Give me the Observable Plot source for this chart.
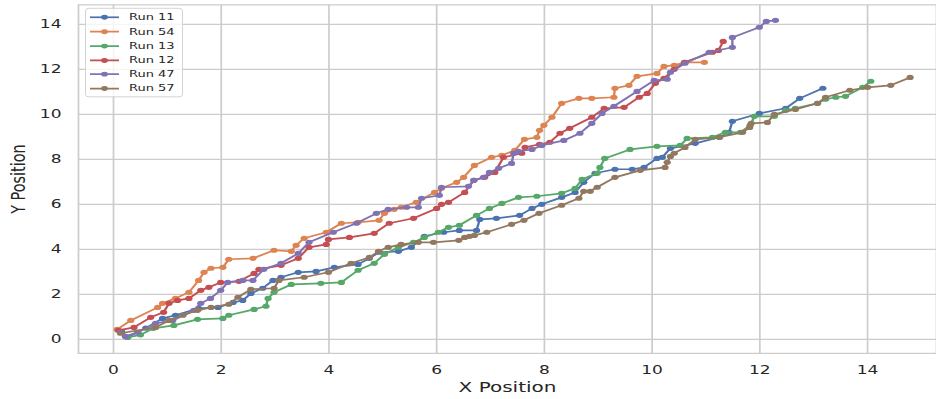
<!DOCTYPE html>
<html>
<head>
<meta charset="utf-8">
<script src="https://cdn.jsdelivr.net/npm/d3@7"></script>
<script src="https://cdn.jsdelivr.net/npm/@observablehq/plot@0.6"></script>
<style>
  html, body { margin: 0; padding: 0; background: #fff; overflow: hidden; }
  #stage { position: relative; width: 936px; height: 399px; overflow: hidden; background: #fff; }
  /* the figure is drawn at full height, then compressed vertically */
  #canvas { position: absolute; left: 0; top: 0; width: 946px; height: 554px; transform-origin: 0 0; transform: scaleY(0.72); }
  #canvas svg { max-width: none !important; width: 946px; height: 554px; display: block; }
  #legend {
    position: absolute; left: 85px; top: 11px; width: 98px; height: 124px;
    background: rgba(255,255,255,0.8); border: 1.3px solid #cccccc; border-radius: 4px;
    box-sizing: border-box; font-family: "DejaVu Sans", sans-serif; font-size: 13px; color: #262626;
  }
  .lg-row { position: absolute; left: 0; height: 20px; width: 100%; }
  .lg-row svg { position: absolute; left: 3px; top: 0; }
  .lg-row span { position: absolute; left: 43px; top: 1px; line-height: 18px; white-space: nowrap; }
</style>
</head>
<body>
<div id="stage"><div id="canvas"></div></div>
<script>
// Trajectories of six runs: x and y position of each recorded step.
const runNames = ["Run 11", "Run 54", "Run 13", "Run 12", "Run 47", "Run 57"];
const runColors = ["#4c72b0", "#dd8452", "#55a868", "#c44e52", "#8172b3", "#937860"];

const run11X = [0.15, 0.26, 0.6, 0.91, 1.15, 1.58, 1.94, 2.22, 2.40, 2.55, 2.77, 2.96, 3.11, 3.43, 3.76, 4.10, 4.54, 4.75, 4.93, 5.29, 5.53, 5.77, 6.13, 6.42, 6.74, 6.80, 7.11, 7.54, 7.77, 7.95, 8.32, 8.57, 8.73, 8.94, 9.31, 9.63, 9.85, 10.09, 10.19, 10.34, 10.80, 11.25, 11.43, 11.49, 11.99, 12.48, 12.74, 13.17];
const run11Y = [0.35, 0.09, 0.5, 0.93, 1.07, 1.38, 1.42, 1.64, 1.73, 2.04, 2.27, 2.62, 2.76, 2.98, 3.02, 3.20, 3.33, 3.60, 3.87, 3.91, 4.09, 4.58, 4.76, 4.84, 4.84, 5.33, 5.38, 5.51, 5.82, 6.00, 6.31, 6.53, 6.98, 7.38, 7.56, 7.56, 7.64, 8.04, 8.09, 8.49, 8.71, 8.98, 9.20, 9.69, 10.04, 10.27, 10.71, 11.16];

const run54X = [0.07, 0.32, 0.82, 0.91, 1.15, 1.40, 1.58, 1.68, 1.81, 2.03, 2.14, 2.59, 2.98, 3.30, 3.39, 3.54, 3.95, 4.23, 4.54, 4.93, 5.03, 5.21, 5.34, 5.62, 5.96, 6.09, 6.37, 6.50, 6.70, 7.02, 7.21, 7.45, 7.63, 7.86, 7.91, 7.99, 8.14, 8.32, 8.64, 8.88, 9.29, 9.31, 9.57, 9.72, 10.09, 10.22, 10.41, 10.61, 10.97];
const run54Y = [0.44, 0.84, 1.42, 1.60, 1.82, 2.09, 2.62, 2.98, 3.16, 3.20, 3.56, 3.60, 3.96, 3.91, 4.18, 4.49, 4.76, 5.16, 5.20, 5.29, 5.60, 5.78, 5.87, 6.09, 6.53, 6.71, 6.98, 7.20, 7.73, 8.09, 8.18, 8.40, 8.89, 8.98, 9.29, 9.51, 9.87, 10.49, 10.71, 10.71, 10.76, 11.16, 11.29, 11.69, 11.82, 12.13, 12.18, 12.31, 12.31];

const run13X = [0.26, 0.50, 0.74, 1.12, 1.56, 2.03, 2.14, 2.61, 2.83, 2.87, 2.98, 3.30, 3.85, 4.23, 4.54, 4.84, 5.03, 5.29, 5.57, 5.77, 6.03, 6.22, 6.42, 6.74, 6.98, 7.21, 7.52, 7.86, 8.32, 8.57, 8.70, 8.98, 9.03, 9.12, 9.59, 10.09, 10.52, 10.65, 11.12, 11.36, 11.64, 11.82, 11.90, 12.27, 12.48, 12.66, 13.07, 13.22, 13.41, 13.59, 13.91, 14.06];
const run13Y = [0.09, 0.20, 0.49, 0.62, 0.89, 0.93, 1.07, 1.33, 1.47, 1.82, 2.09, 2.44, 2.49, 2.53, 3.07, 3.38, 3.78, 4.09, 4.31, 4.53, 4.76, 4.98, 5.07, 5.51, 5.82, 6.04, 6.31, 6.36, 6.49, 6.71, 7.11, 7.38, 7.64, 8.04, 8.44, 8.58, 8.62, 8.93, 8.98, 9.20, 9.20, 9.51, 9.91, 9.91, 10.18, 10.27, 10.49, 10.67, 10.76, 10.80, 11.20, 11.47];

const run12X = [0.09, 0.38, 0.69, 0.93, 1.03, 1.19, 1.40, 1.62, 1.77, 1.99, 2.33, 2.61, 2.70, 3.11, 3.43, 3.63, 3.95, 3.99, 4.38, 4.84, 5.12, 5.57, 6.00, 6.09, 6.22, 6.52, 6.69, 6.89, 7.08, 7.24, 7.58, 7.64, 7.91, 8.10, 8.29, 8.47, 8.88, 9.11, 9.48, 9.76, 9.91, 10.06, 10.22, 10.41, 10.60, 11.12, 11.23, 11.32];
const run12Y = [0.40, 0.53, 0.98, 1.20, 1.60, 1.73, 1.82, 2.18, 2.31, 2.53, 2.58, 2.93, 3.11, 3.29, 3.60, 4.09, 4.22, 4.44, 4.53, 4.71, 5.16, 5.38, 5.82, 6.00, 6.09, 6.53, 7.07, 7.20, 7.42, 8.09, 8.27, 8.53, 8.67, 8.76, 9.16, 9.38, 9.87, 10.27, 10.31, 10.76, 10.93, 11.38, 11.60, 12.00, 12.31, 12.76, 12.84, 13.24];

const run47X = [0.13, 0.22, 0.45, 0.78, 1.10, 1.49, 1.62, 1.80, 1.99, 2.12, 2.40, 2.59, 2.79, 3.11, 3.43, 3.63, 4.08, 4.51, 4.88, 5.10, 5.44, 5.66, 5.72, 6.05, 6.09, 6.59, 6.69, 6.87, 6.98, 7.15, 7.39, 7.43, 7.52, 7.77, 7.95, 8.36, 8.66, 8.88, 9.07, 9.29, 9.72, 10.04, 10.28, 10.34, 10.61, 11.06, 11.49, 11.49, 11.99, 12.12, 12.29];
const run47Y = [0.31, 0.13, 0.31, 0.71, 0.84, 1.29, 1.60, 1.82, 2.18, 2.53, 2.62, 2.62, 3.11, 3.38, 3.82, 4.31, 4.76, 5.16, 5.60, 5.78, 5.87, 5.87, 6.27, 6.40, 6.76, 6.80, 7.07, 7.20, 7.42, 7.60, 7.82, 8.27, 8.36, 8.44, 8.62, 8.84, 9.16, 9.60, 10.04, 10.36, 11.02, 11.51, 11.56, 11.87, 12.27, 12.76, 12.98, 13.42, 13.87, 14.13, 14.18];

const run57X = [0.13, 0.78, 1.03, 1.29, 1.56, 1.81, 2.14, 2.31, 2.55, 2.98, 3.07, 3.54, 3.99, 4.41, 4.75, 4.92, 5.10, 5.34, 5.66, 5.94, 6.41, 6.52, 6.61, 6.70, 6.93, 7.39, 7.62, 7.90, 8.32, 8.64, 8.73, 8.85, 8.98, 9.31, 9.78, 10.24, 10.28, 10.34, 10.41, 10.61, 10.80, 11.25, 11.68, 11.81, 11.84, 12.14, 12.27, 12.66, 13.07, 13.22, 13.67, 14.00, 14.43, 14.79];
const run57Y = [0.27, 0.53, 0.84, 1.07, 1.29, 1.42, 1.56, 1.87, 2.22, 2.27, 2.62, 2.76, 2.98, 3.38, 3.64, 3.91, 4.09, 4.22, 4.31, 4.31, 4.40, 4.53, 4.58, 4.62, 4.76, 5.11, 5.29, 5.60, 5.96, 6.27, 6.58, 6.58, 6.76, 7.20, 7.51, 7.64, 7.87, 8.13, 8.27, 8.53, 8.89, 8.98, 9.20, 9.42, 9.60, 9.64, 10.00, 10.22, 10.49, 10.76, 11.07, 11.20, 11.29, 11.64];

const xTicks = [0, 2, 4, 6, 8, 10, 12, 14];
const yTicks = [0, 2, 4, 6, 8, 10, 12, 14];

const runXs = [run11X, run54X, run13X, run12X, run47X, run57X];
const runYs = [run11Y, run54Y, run13Y, run12Y, run47Y, run57Y];

// long-format table: one row per recorded step
const rows = runNames.flatMap((name, i) =>
  runXs[i].map((x, j) => ({run: name, x, y: runYs[i][j]}))
);

const gridColor = "#cccccc";
const ink = "#262626";

// each run draws its line and then its markers, in legend order
const runMarks = runNames.flatMap(name => {
  const data = rows.filter(d => d.run === name);
  return [
    Plot.line(data, {x: "x", y: "y", stroke: "run", strokeWidth: 2.4}),
    Plot.dot(data, {x: "x", y: "y", fill: "run", r: 3.6, stroke: "none"})
  ];
});

const chart = Plot.plot({
  width: 946,
  height: 554,
  marginLeft: 78,
  marginRight: 10,
  marginTop: 6.25,
  marginBottom: 63.7,
  style: {background: "#fff", color: ink, fontFamily: "DejaVu Sans, sans-serif"},
  x: {domain: [-0.65, 15.28]},
  y: {domain: [-0.624, 14.866]},
  color: {domain: runNames, range: runColors},
  marks: [
    Plot.gridX(xTicks, {stroke: gridColor, strokeOpacity: 1, strokeWidth: 1.7}),
    Plot.gridY(yTicks, {stroke: gridColor, strokeOpacity: 1, strokeWidth: 1.7}),
    Plot.frame({stroke: gridColor, strokeWidth: 1.7}),
    Plot.axisX(xTicks, {tickSize: 0, tickPadding: 16, fontSize: 17, label: null}),
    Plot.axisY(yTicks, {tickSize: 0, tickPadding: 17, fontSize: 17, label: null}),
    Plot.text(["X Position"], {frameAnchor: "bottom", dy: 47, fontSize: 20, lineAnchor: "middle", fill: ink}),
    Plot.text(["Y Position"], {frameAnchor: "left", dx: -60, rotate: -90, fontSize: 20, textAnchor: "middle", lineAnchor: "middle", fill: ink}),
    ...runMarks
  ]
});

const canvas = document.getElementById("canvas");
canvas.appendChild(chart);

// legend box in the upper-left corner of the plot
const legend = document.createElement("div");
legend.id = "legend";
runNames.forEach((name, i) => {
  const row = document.createElement("div");
  row.className = "lg-row";
  row.style.top = (2.2 + i * 19.8) + "px";
  const svg = d3.create("svg").attr("width", 32).attr("height", 20);
  svg.append("line").attr("x1", 1).attr("x2", 30).attr("y1", 10).attr("y2", 10)
    .attr("stroke", runColors[i]).attr("stroke-width", 2.4);
  svg.append("circle").attr("cx", 15.5).attr("cy", 10).attr("r", 3.4).attr("fill", runColors[i]);
  row.appendChild(svg.node());
  const label = document.createElement("span");
  label.textContent = name;
  row.appendChild(label);
  legend.appendChild(row);
});
canvas.appendChild(legend);
</script>
</body>
</html>
